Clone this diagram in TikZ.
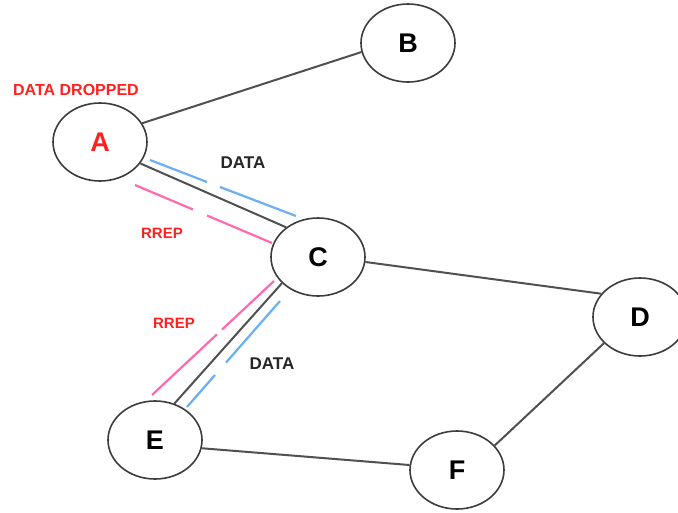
\documentclass[tikz,border=0pt]{standalone}
\usepackage{fontspec}
\setmainfont{Liberation Sans}
\usetikzlibrary{shapes.geometric}
\definecolor{edgegray}{HTML}{505050}
\definecolor{rimgray}{HTML}{3C3C3C}
\definecolor{pinkline}{HTML}{FF6AAE}
\definecolor{blueline}{HTML}{6AAEF5}
\definecolor{redtext}{HTML}{FF2020}
\tikzset{
  station/.style={draw=rimgray, line width=1.6pt, ellipse, minimum width=94pt, minimum height=78pt, inner sep=0pt, font=\fontsize{27}{27}\selectfont\bfseries},
  link/.style={draw=edgegray, line width=2pt},
  rreppath/.style={draw=pinkline, line width=2.2pt},
  datapath/.style={draw=blueline, line width=2.2pt},
  tag/.style={font=\fontsize{15}{15}\selectfont\bfseries, inner sep=0pt},
  bigtag/.style={font=\fontsize{17}{17}\selectfont\bfseries, inner sep=0pt}
}
\begin{document}
\begin{tikzpicture}[x=1pt,y=-1pt]
\useasboundingbox (0,0) rectangle (678,512);
\node[station, text=redtext] (A) at (100,142) {A};
\node[station] (B) at (408,43) {B};
\node[station] (C) at (318,257) {C};
\node[station] (D) at (640,317) {D};
\node[station] (E) at (155,440) {E};
\node[station] (F) at (457,470) {F};

\draw[link] (A.24) -- (B.191);
\draw[link] (A.-28) -- (C.137);
\draw[link] (C.216) -- (E.62);
\draw[link] (C.-6) -- (D.149);
\draw[link] (D.216) -- (F.33);
\draw[link] (E.-10) -- (F.174);

% A-C parallel paths
\coordinate (ac1) at (150,160); \coordinate (ac2) at (207,182);
\coordinate (ac3) at (220,187); \coordinate (ac4) at (296,216);
\draw[datapath] (ac1) -- (ac2) (ac3) -- (ac4);
\coordinate (ar1) at (135,185); \coordinate (ar2) at (193,209.5);
\coordinate (ar3) at (207,215.5); \coordinate (ar4) at (272,243);
\draw[rreppath] (ar1) -- (ar2) (ar3) -- (ar4);

% C-E parallel paths
\coordinate (cr1) at (274,281); \coordinate (cr2) at (222,329.6);
\coordinate (cr3) at (217,334.3); \coordinate (cr4) at (152,395);
\draw[rreppath] (cr1) -- (cr2) (cr3) -- (cr4);
\coordinate (cd1) at (280,301); \coordinate (cd2) at (226,362.6);
\coordinate (cd3) at (215,375); \coordinate (cd4) at (187,407);
\draw[datapath] (cd1) -- (cd2) (cd3) -- (cd4);

\node[tag, text=redtext, font=\fontsize{16}{16}\selectfont\bfseries] (drop) at (76,90) {DATA DROPPED};
\node[bigtag, text=black!85] (data1) at (243,163) {DATA};
\node[tag, text=redtext] (rrep1) at (162,233) {RREP};
\node[tag, text=redtext] (rrep2) at (174,323) {RREP};
\node[bigtag, text=black!85] (data2) at (272,364) {DATA};
\end{tikzpicture}
\end{document}
